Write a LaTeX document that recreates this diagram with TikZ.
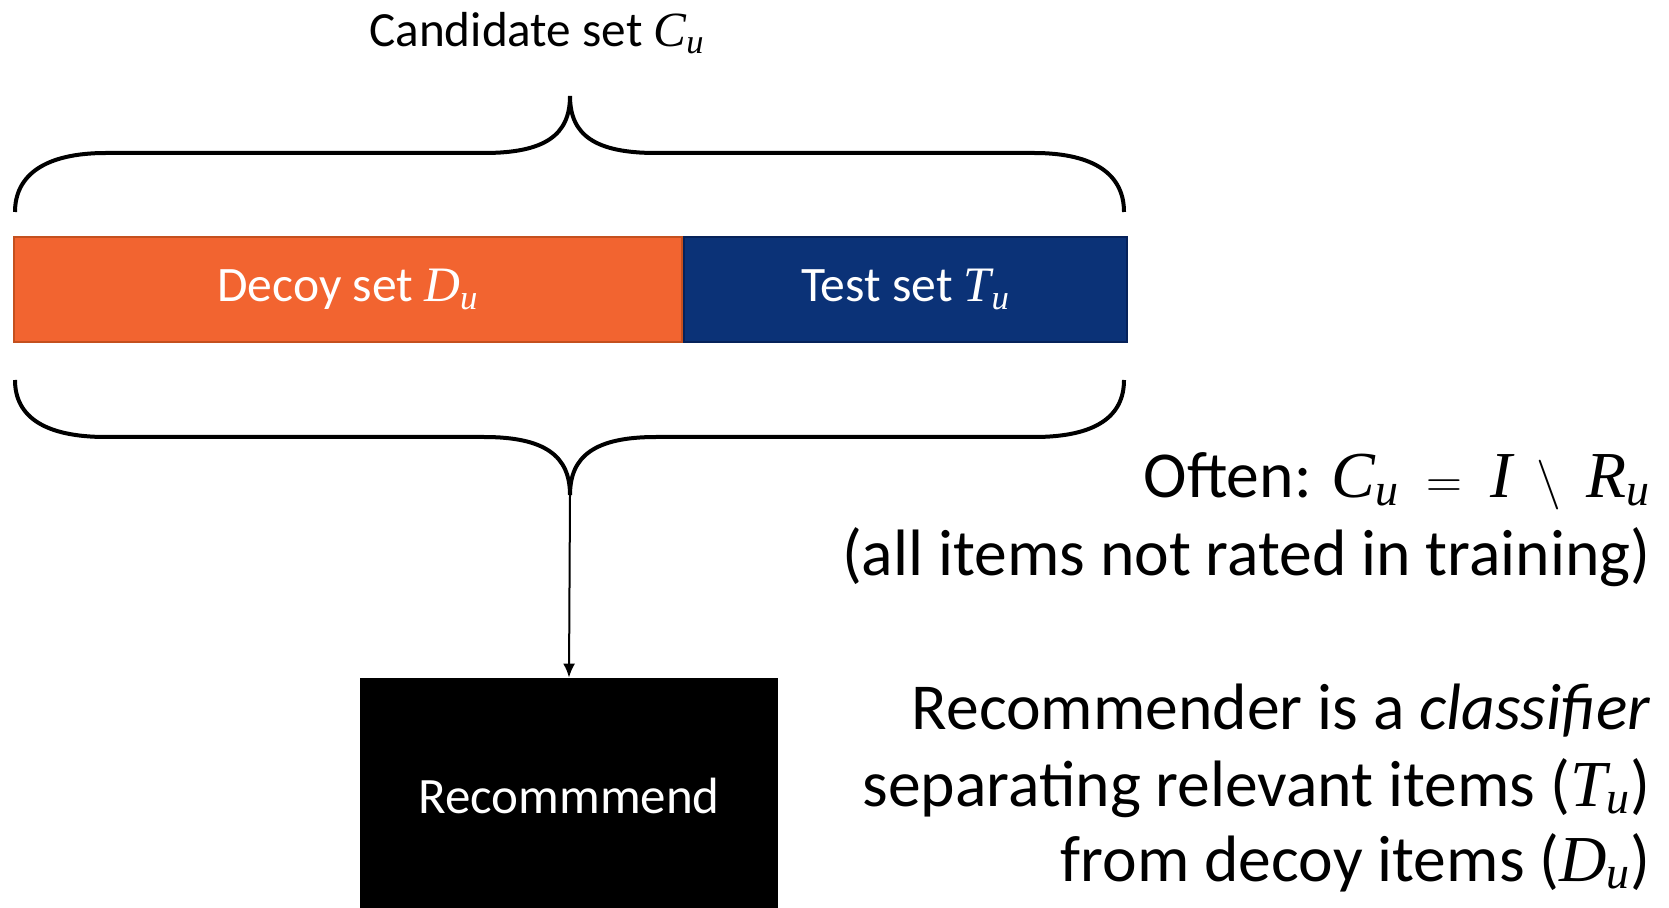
\documentclass[tikz,border=0pt]{standalone}
\usepackage{mathspec}
\setmainfont{Carlito}
\setmathsfont(Latin)[Scale=1.0]{Liberation Serif}
\usepackage{tikz}
\usetikzlibrary{arrows.meta,positioning,calc}
\definecolor{laranja}{HTML}{F26430}
\definecolor{laranjaesc}{HTML}{C4501E}
\definecolor{azulesc}{HTML}{0B3277}
\definecolor{azulborda}{HTML}{06225A}

\begin{document}
\begin{tikzpicture}[x=0.5pt, y=-0.5pt,
  chave/.style={black, line width=2pt},
  seta/.style={-{Latex[length=7pt,width=6pt]}, line width=1pt},
  barra/.style={draw, line width=1pt, minimum height=52.5pt, inner sep=0pt,
    text=white, font=\fontsize{24.8}{29}\selectfont},
  rotbig/.style={anchor=base east, inner sep=0pt, font=\fontsize{32.8}{39}\selectfont}]

\useasboundingbox (0,0) rectangle (1669,908);
\clip (0,0) rectangle (1669,908);

% ================= conjunto candidato =================
\node[font=\fontsize{24.6}{29}\selectfont] (cand) at (537,33) {Candidate set $C_u$};

% chave de cima
\draw[chave] (15,212) .. controls (15,175) and (45,153) .. (106,153)
  -- (484,153) .. controls (545,153) and (570,135) .. (570,96)
  .. controls (570,135) and (595,153) .. (656,153)
  -- (1034,153) .. controls (1095,153) and (1124,175) .. (1124,212);

% ================= barra =================
\node[barra, fill=laranja, draw=laranjaesc, minimum width=334pt] (decoy) at (348,289.5) {Decoy set $D_u$};
\node[barra, fill=azulesc, draw=azulborda, minimum width=221.5pt, right=0pt of decoy] (test) {Test set $T_u$};

% chave de baixo
\draw[chave] (15,380) .. controls (15,417) and (45,437) .. (106,437)
  -- (484,437) .. controls (545,437) and (570,456) .. (570,495)
  .. controls (570,456) and (595,437) .. (656,437)
  -- (1034,437) .. controls (1095,437) and (1124,417) .. (1124,380);
\coordinate (ponta) at (570,495);

% ================= recomendador =================
\node[fill=black, minimum width=209pt, minimum height=118pt, inner sep=0pt,
  text=white, font=\fontsize{25.5}{30}\selectfont] (rec) at (569,796) {Recommmend};
\draw[seta] (ponta) -- (rec.north);

% ================= textos =================
\node[rotbig] (often) at (1651,498) {Often: $C_u \;=\; I \;\setminus\; R_u$};
\node[rotbig] (naoav) at (1651,575) {(all items not rated in training)};
\node[rotbig] (class) at (1651,729) {Recommender is a \textit{classifier}};
\node[rotbig] (separ) at (1651,806) {separating relevant items ($T_u$)};
\node[rotbig] (decoi) at (1651,881) {from decoy items ($D_u$)};

\end{tikzpicture}
\end{document}
